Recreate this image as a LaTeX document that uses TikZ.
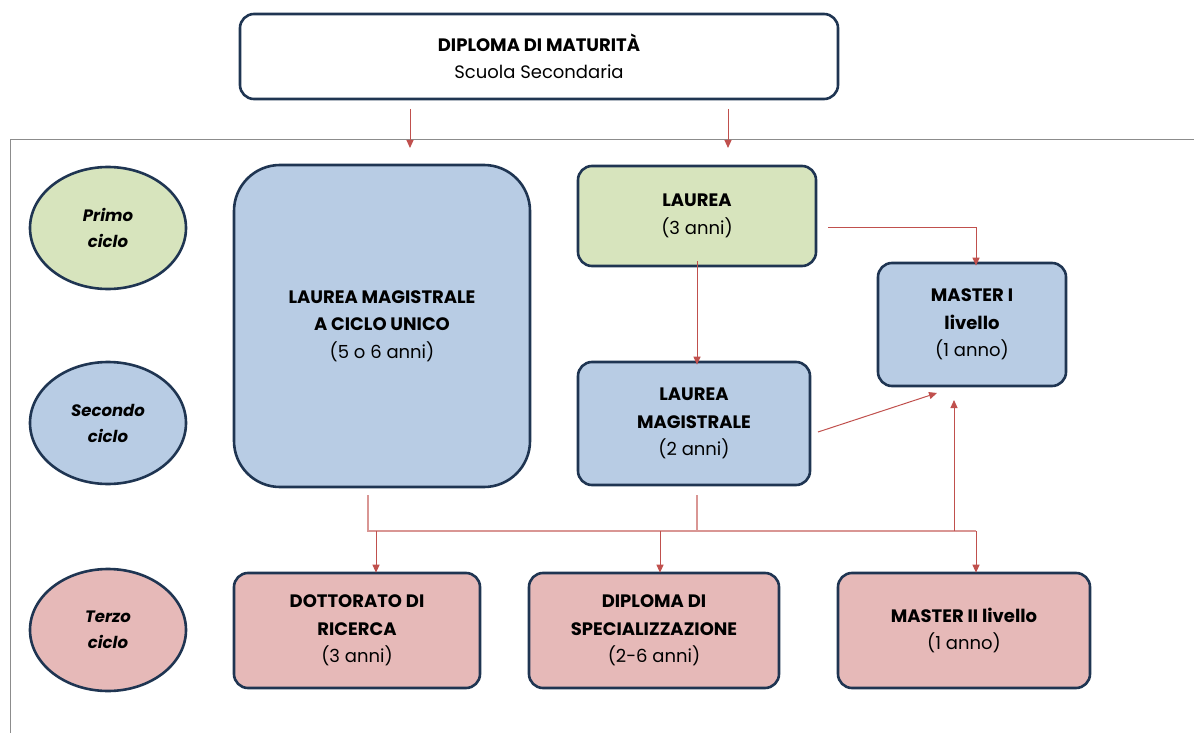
\documentclass[tikz,border=0pt]{standalone}
\usepackage{fontspec}
\setmainfont{Poppins}
\usetikzlibrary{arrows.meta,shapes.geometric,calc}
\definecolor{navy}{HTML}{1F3552}
\definecolor{bfill}{HTML}{B8CCE4}
\definecolor{gfill}{HTML}{D7E4BD}
\definecolor{pfill}{HTML}{E6B9B8}
\definecolor{arr}{HTML}{C0504D}
\definecolor{bus}{HTML}{D99694}
\definecolor{frame}{HTML}{8C8C8C}
\tikzset{
  box/.style={draw=navy, line width=2.6pt, rounded corners=14pt, align=center, inner sep=0pt, font=\fontsize{18}{27.5}\selectfont},
  cyc/.style={draw=navy, ellipse, line width=2.6pt, minimum width=156pt, minimum height=122pt, align=center, inner sep=0pt, font=\fontsize{16.5}{26}\selectfont\bfseries\itshape},
  link/.style={draw=arr, line width=1pt, -{Triangle[width=7pt,length=8pt]}},
  busl/.style={draw=bus, line width=1.2pt},
}
\begin{document}
\begin{tikzpicture}[x=1pt,y=-1pt]
\useasboundingbox (0,0) rectangle (1194,733);
% frame
\draw[frame, line width=0.9pt] (1194,139) -- (10,139) -- (10,733);
% top box
\node[box, minimum width=598pt, minimum height=85pt, fill=white] (dip) at (539,56.5) {\textbf{DIPLOMA DI MATURITÀ}\\Scuola Secondaria};
% cycles
\node[cyc, fill=gfill] (c1) at (108,228) {Primo\\ciclo};
\node[cyc, fill=bfill] (c2) at (108,423) {Secondo\\ciclo};
\node[cyc, fill=pfill] (c3) at (108,630) {Terzo\\ciclo};
% boxes
\node[box, fill=bfill, rounded corners=46pt, minimum width=296pt, minimum height=322pt] (lmcu) at (382,326) {\textbf{LAUREA MAGISTRALE}\\\textbf{A CICLO UNICO}\\(5 o 6 anni)};
\node[box, fill=gfill, minimum width=238pt, minimum height=100pt] (lau) at (697,216) {\textbf{LAUREA}\\(3 anni)};
\node[box, fill=bfill, minimum width=188pt, minimum height=123pt] (m1) at (972,324.5) {\textbf{MASTER I}\\\textbf{livello}\\(1 anno)};
\node[box, fill=bfill, minimum width=232pt, minimum height=123pt] (lm) at (694,423.5) {\textbf{LAUREA}\\\textbf{MAGISTRALE}\\(2 anni)};
\node[box, fill=pfill, minimum width=246pt, minimum height=115pt] (dot) at (357,630.5) {\textbf{DOTTORATO DI}\\\textbf{RICERCA}\\(3 anni)};
\node[box, fill=pfill, minimum width=250pt, minimum height=115pt] (spec) at (654,630.5) {\textbf{DIPLOMA DI}\\\textbf{SPECIALIZZAZIONE}\\(2-6 anni)};
\node[box, fill=pfill, minimum width=252pt, minimum height=115pt] (m2) at (964,630.5) {\textbf{MASTER II livello}\\(1 anno)};
% top arrows
\coordinate (d1) at (410,109);
\coordinate (d2) at (728,109);
\draw[link] (d1) -- (410,148);
\draw[link] (d2) -- (728,148);
% laurea -> master I
\coordinate (l1) at (828,227);
\draw[link] (l1) -| ([yshift=-4pt]m1.north -| 976,0);
% laurea -> LM
\draw[link] ([yshift=6pt]lau.south -| 697,0) -- ([yshift=-4pt]lm.north -| 697,0);
% LM -> master I
\coordinate (lmr) at (818,432);
\coordinate (m1a) at (937,393);
\draw[link] (lmr) -- (m1a);
% bus
\coordinate (b1) at (368,495);
\coordinate (b2) at (697,495);
\draw[busl] (b1) -- (368,531) -- (976,531);
\draw[busl] (b2) -- (697,531);
\draw[link] (954,531) -- (954,400);
\draw[link] (376,531) -- ([yshift=-1pt]dot.north -| 376,0);
\draw[link] (660,531) -- ([yshift=-1pt]spec.north -| 660,0);
\draw[link] (976,531) -- ([yshift=-1pt]m2.north -| 976,0);
\end{tikzpicture}
\end{document}
